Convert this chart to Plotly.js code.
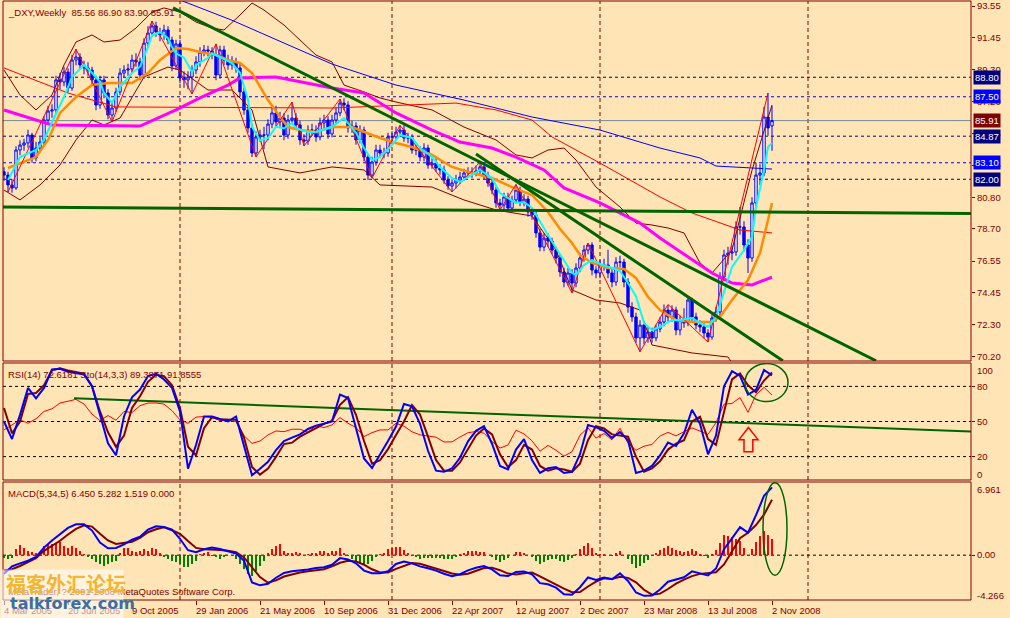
<!DOCTYPE html>
<html><head><meta charset="utf-8">
<script src="https://cdn.plot.ly/plotly-3.0.1.min.js"></script>
<style>html,body{margin:0;padding:0;background:#FFE4B5;}#chart{width:1010px;height:618px;}</style>
</head><body><div id="chart"></div>
<script>
// ---------- weekly OHLC (_DXY) ----------
const open  = [82.50,82.28,81.62,81.42,83.95,84.28,84.42,84.95,83.42,84.08,84.48,85.95,86.55,86.62,88.62,88.48,89.15,88.08,89.95,90.15,89.62,89.42,89.28,88.62,86.95,88.62,87.75,86.28,86.75,87.82,89.08,89.28,89.35,89.95,89.82,88.95,91.08,91.75,92.22,91.82,91.62,91.95,91.28,89.55,91.02,88.75,88.62,88.82,89.28,89.82,90.48,90.62,90.55,90.28,88.95,90.62,89.95,89.62,89.82,89.42,87.82,86.62,85.42,83.75,84.82,84.95,84.95,85.68,86.42,85.82,86.08,84.95,85.95,86.08,85.62,84.62,84.55,85.28,85.28,84.82,85.75,85.95,85.02,85.95,86.42,87.08,86.95,85.42,85.55,84.62,85.28,83.48,82.28,83.15,83.95,83.75,83.75,84.82,84.82,85.15,85.28,84.75,84.75,83.95,83.95,83.48,84.08,82.95,83.08,82.75,82.62,81.95,81.55,81.75,81.95,82.15,82.42,82.48,82.42,82.55,82.82,82.28,81.75,81.28,80.42,80.28,80.82,80.08,80.62,81.28,80.48,80.68,79.82,79.62,78.42,77.48,78.08,77.88,77.28,76.75,75.82,75.15,75.75,75.08,76.08,76.75,77.28,77.62,75.95,75.75,76.28,76.28,75.75,75.15,76.48,76.48,75.15,73.48,72.82,71.42,72.28,71.42,71.82,71.42,72.02,72.48,73.28,72.82,73.28,71.95,72.62,72.42,73.95,72.82,72.28,72.15,71.75,71.48,72.75,73.15,75.48,76.95,77.08,77.15,78.82,78.82,77.62,76.75,80.42,82.28,82.42,86.15,85.56];
const high  = [82.8,82.5,82.0,84.2,84.6,84.7,85.3,85.1,84.5,84.8,86.2,86.9,87.0,88.9,89.1,89.5,89.4,90.3,90.68,90.4,89.9,89.8,89.5,88.9,88.9,88.9,88.0,87.1,88.1,89.4,89.6,89.7,90.3,90.4,90.1,91.4,92.2,92.55,92.5,92.1,92.3,92.2,91.5,91.3,91.3,89.2,89.2,89.6,90.2,90.8,90.95,90.9,90.8,91.02,90.9,90.9,90.3,90.2,90.1,89.7,88.1,86.9,85.7,85.2,85.3,85.5,86.0,86.8,86.9,86.5,86.4,86.3,87.15,86.4,85.9,85.0,85.6,85.7,85.6,86.1,86.3,86.2,86.3,86.8,87.35,87.4,87.2,85.9,85.8,85.6,85.5,83.7,83.5,84.3,84.3,84.1,85.1,85.2,85.5,85.6,85.6,85.1,85.0,84.3,84.2,84.4,84.3,83.4,83.4,83.0,82.9,82.2,82.0,82.3,82.5,82.7,82.8,82.8,82.9,83.15,83.1,82.5,82.0,81.5,80.7,81.1,81.1,80.9,81.65,81.5,81.0,80.9,80.1,79.9,78.7,78.4,78.4,78.1,77.5,77.0,76.1,76.1,76.0,76.4,77.1,77.6,77.75,77.8,76.2,76.6,76.7,77.3,76.0,76.8,76.9,76.7,75.4,73.8,73.1,72.6,72.5,72.2,72.1,72.3,72.8,73.65,73.6,73.6,73.5,72.9,73.4,74.2,74.1,73.1,72.6,72.4,72.0,73.0,73.5,75.8,77.3,77.5,77.6,79.2,80.15,79.2,78.0,80.8,83.1,83.0,86.82,87.75,86.90];
const low   = [81.9,81.15,81.1,81.3,83.6,83.9,84.1,83.1,83.2,83.8,84.3,85.7,86.1,86.4,88.0,88.2,87.8,87.9,89.6,89.3,89.0,88.9,88.3,86.6,86.7,87.4,86.0,85.82,86.5,87.6,88.8,88.9,89.1,89.5,88.6,88.7,90.8,91.5,91.5,91.2,91.3,91.0,89.2,89.3,88.4,88.1,88.0,87.7,89.0,89.5,90.2,90.2,90.0,88.6,88.7,89.6,89.3,89.3,89.1,87.5,86.3,85.1,83.48,83.5,84.5,84.0,84.6,85.4,85.5,85.5,84.6,84.7,85.7,85.3,84.3,84.22,84.3,84.9,84.5,84.6,85.4,84.7,84.8,85.7,86.2,86.6,85.1,85.1,84.3,84.4,83.2,81.95,82.1,82.9,83.4,83.4,83.5,84.5,84.6,84.9,84.5,84.4,83.7,83.6,83.2,83.2,82.7,82.7,82.5,82.3,81.7,81.3,81.15,81.4,81.7,81.9,82.1,82.1,82.2,82.3,82.0,81.5,81.0,80.1,79.95,80.0,79.8,79.8,80.4,80.2,80.2,79.5,79.3,78.1,77.2,77.2,77.5,77.0,76.4,75.5,74.8,74.9,74.42,74.8,75.8,76.5,77.0,75.6,75.4,75.4,75.9,75.4,74.8,74.9,76.1,74.8,73.1,72.5,71.1,70.5,71.0,71.1,71.1,71.2,71.8,72.2,72.5,72.5,71.6,71.6,72.1,72.2,72.5,72.0,71.8,71.4,71.15,71.3,72.5,72.9,75.2,76.3,76.6,76.9,78.3,77.2,75.75,76.5,80.1,81.6,82.2,84.9,83.90];
const close = [82.28,81.62,81.42,83.95,84.28,84.42,84.95,83.42,84.08,84.48,85.95,86.55,86.62,88.62,88.48,89.15,88.08,89.95,90.15,89.62,89.42,89.28,88.62,86.95,88.62,87.75,86.28,86.75,87.82,89.08,89.28,89.35,89.95,89.82,88.95,91.08,91.75,92.22,91.82,91.62,91.95,91.28,89.55,91.02,88.75,88.62,88.82,89.28,89.82,90.48,90.62,90.55,90.28,88.95,90.62,89.95,89.62,89.82,89.42,87.82,86.62,85.42,83.75,84.82,84.95,84.95,85.68,86.42,85.82,86.08,84.95,85.95,86.08,85.62,84.62,84.55,85.28,85.28,84.82,85.75,85.95,85.02,85.95,86.42,87.08,86.95,85.42,85.55,84.62,85.28,83.48,82.28,83.15,83.95,83.75,83.75,84.82,84.82,85.15,85.28,84.75,84.75,83.95,83.95,83.48,84.08,82.95,83.08,82.75,82.62,81.95,81.55,81.75,81.95,82.15,82.42,82.48,82.42,82.55,82.82,82.28,81.75,81.28,80.42,80.28,80.82,80.08,80.62,81.28,80.48,80.68,79.82,79.62,78.42,77.48,78.08,77.88,77.28,76.75,75.82,75.15,75.75,75.08,76.08,76.75,77.28,77.62,75.95,75.75,76.28,76.28,75.75,75.15,76.48,76.48,75.15,73.48,72.82,71.42,72.28,71.42,71.82,71.42,72.02,72.48,73.28,72.82,73.28,71.95,72.62,72.42,73.95,72.82,72.28,72.15,71.75,71.48,72.75,73.15,75.48,76.95,77.08,77.15,78.82,78.82,77.62,76.75,80.42,82.28,82.42,86.15,85.42,85.91];

// ---------- date axis ----------
const dateLabels = ["4 Mar 2005","20 Jun 2005","9 Oct 2005","29 Jan 2006","21 May 2006","10 Sep 2006","31 Dec 2006","22 Apr 2007","12 Aug 2007","2 Dec 2007","23 Mar 2008","13 Jul 2008","2 Nov 2008"];
const dateBars   = [0,16,32,48,64,80,96,112,128,144,160,176,192];
const yearGridBars = [44,97,149,201];
const priceTicks = [93.55,91.45,89.30,87.20,85.05,82.95,80.80,78.70,76.55,74.45,72.30,70.20];

// ---------- moving averages (bar index, value) ----------
const cyanBars = [1,4,8,10,12,15,17,20,22,24,25,27,29,32,34,36,37,39,41,42,43,45,47,48,51,52,54,57,59,61,62,64,66,68,70,72,73,76,78,82,85,88,90,92,94,97,99,102,104,107,109,112,114,117,119,122,124,128,130,132,134,136,138,140,142,143,145,147,149,152,154,156,158,160,162,164,167,169,172,174,176,178,180,182,185,187,188,190,191,192];
const cyanVals = [81.95,83.48,83.95,84.62,85.8,87.5,88.82,89.62,89.1,88.5,87.75,87.1,88.15,89.08,89.5,90.8,91.6,91.8,91.4,90.8,90.4,90.1,89.15,89.6,90.1,90.4,90.15,89.75,89.1,87.3,85.5,84.6,84.75,85.5,85.4,85.75,85.4,85.15,85.15,85.5,86.08,85.1,84.08,83.28,83.48,84.28,84.95,84.75,84.08,83.48,82.82,82.08,81.82,82.28,82.62,82.08,81.08,80.42,80.48,80.08,79.15,78.28,77.42,76.62,75.75,75.62,76.28,76.62,76.35,76.08,75.88,75.08,74.2,72.42,71.95,72.15,72.62,72.62,72.75,72.42,72.15,72.82,74.42,76.15,77.28,78.15,80.15,82.62,84.15,84.42];
const orangeBars = [1,4,8,11,14,18,22,26,29,32,36,39,43,46,49,53,56,59,62,64,66,69,71,74,78,82,87,92,97,102,107,112,117,122,127,132,136,139,142,144,147,151,155,158,161,164,168,172,177,179,182,186,189,191,192];
const orangeVals = [82.75,83.08,83.48,84.62,86.42,87.48,88.28,88.42,88.42,88.42,89.08,89.95,90.75,90.68,90.48,90.28,89.95,89.75,89.08,88.15,87.28,86.15,85.48,85.28,85.15,85.48,85.48,84.95,84.48,84.15,83.62,82.82,82.42,82.08,81.48,80.95,79.82,78.68,77.75,76.95,76.42,76.08,76.02,75.42,74.15,73.28,72.62,72.48,72.48,72.82,73.95,75.28,77.08,79.28,80.42];
const magentaBars = [0,12,34,43,49,56,59,68,82,90,98,107,114,122,128,135,140,149,159,164,177,182,187,192];
const magentaVals = [86.62,85.62,85.55,86.62,87.42,88.28,88.75,88.82,88.08,87.75,86.42,85.28,84.48,84.08,83.48,82.62,81.42,80.42,79.08,78.08,75.75,75.08,74.95,75.48];
const blueMaBars = [44,46,57,70,82,98,115,132,149,164,174,178,192];
const blueMaVals = [93.95,93.75,92.6,91.08,89.68,88.28,87.28,86.15,85.28,84.08,83.42,82.88,82.68];
const redMaBars = [0,16,28,82,113,123,132,137,149,164,172,184,192];
const redMaVals = [89.42,87.75,86.82,86.75,87.08,86.62,85.95,84.82,83.08,80.82,79.75,78.62,78.42];
const zigBars = [1,18,27,37,47,53,63,72,75,84,92,99,112,119,124,128,142,146,159,166,176,191];
const zigVals = [81.15,90.68,85.82,92.55,87.68,91.02,83.48,87.15,84.22,87.35,82.08,85.6,81.15,83.15,79.95,81.65,74.42,77.75,70.5,73.65,71.15,87.75];
// Bollinger-type bands (maroon)
const bandUpBars = [0,4,8,12,15,18,22,25,29,33,37,40,44,48,52,55,59,62,65,70,74,78,82,85,90,94,98,107,115,123,128,132,136,140,143,148,154,158,162,166,170,174,177,182,187,192];
const bandUpVals = [89.28,87.62,86.62,87.62,89.62,91.15,91.62,91.15,91.28,92.08,93.15,93.42,93.15,92.48,92.08,91.95,92.95,93.75,93.28,92.28,91.28,90.28,89.82,88.28,87.82,87.42,87.15,86.62,85.48,84.62,83.62,83.42,83.95,84.08,83.28,81.48,80.15,79.08,78.95,78.75,78.42,76.42,75.75,77.28,82.6,86.95];
const bandLoBars = [0,4,9,14,18,22,25,29,35,41,44,51,57,62,66,74,82,90,94,107,115,123,132,138,142,148,154,159,162,172,181,184];
const bandLoVals = [81.28,80.62,81.62,82.95,84.62,85.95,85.62,86.08,88.82,89.48,89.28,87.95,87.95,86.62,82.82,82.42,82.82,82.62,81.62,81.48,80.62,79.95,79.55,77.28,74.62,73.95,73.75,73.28,70.95,70.42,70.15,68.95];

// ---------- drawn objects ----------
const levels      = [88.80,87.50,84.87,83.10,82.00];
const levelColors = ["#000080","#0000FF","#000080","#0000FF","#000080"];
const bidPrice = 85.91;
const trend1Bars = [42.25,218], trend1Vals = [93.42,69.9];
const trend2Bars = [118,194.7], trend2Vals = [83.68,69.9];
const flatLineBars = [-1,242], flatLineVals = [80.15,79.72];
const rsiTrendBars = [17.5,242], rsiTrendVals = [69.8,41.4];

// ---------- oscillators (every 2nd bar) ----------
const stochMain = [50,35,55.7,78.7,69.8,78.7,94.5,95,92.5,91.6,90.2,80.1,55.7,31.3,21.2,54.3,70.7,77.3,88.8,90.8,85.9,78.7,58.6,9.7,29.9,54.3,54.3,52.3,50,54.3,28.4,4,9.7,15.5,25.5,33.3,36.2,39,43.6,46.5,48.2,50,73,70.1,44.2,18.4,10.3,21.2,33.3,45.7,
  65,63,48,25,8,7,10,19,33,42,46,31,12,9,26,35,17,6,10,11,6,7,22,47,45,42,36,41,34,6,8,12,21,32,29,40,60,48,22,38,80,93,89,73,77,94,89.4];
const stochSignal = [61.5,39.9,50,73.5,74.4,81,93.7,95.4,93.7,92.2,90.8,80.1,58.6,40.8,28.4,37.9,61.5,71.5,83.9,89.9,88.8,81,61.5,28.4,21.2,44.2,53.7,52,51.4,51.4,36.2,11.2,4.6,9.7,19.8,30.7,31.9,37.1,40.8,44.2,48,50.5,64.3,70.7,55.7,33.3,14,16.9,26.4,38.5,
  50,64,56,37,17,8,8,15,26,38,44,39,22,11,17,30,26,12,8,10,9,7,14,34,46,44,39,38,37,20,7,10,16,26,31,34,50,54,35,30,59,86,91,81,75,85,91.9];
const rsi = [42.8,47.1,51.4,48.5,52.3,58.6,60.9,65.8,67.2,68.9,64.9,56.3,50.8,55.1,51.1,58.6,57.7,63.5,65.8,65.8,64.9,59.2,51.4,48.5,53.7,54.3,53.4,50.8,50.8,50,37.9,31.3,33.3,38.5,41.9,41.3,43.4,43.4,40.8,46.5,44.8,47.1,53.4,48.5,44.8,37.1,40.5,42.8,42.8,48.5,
  46.0,41.2,38.6,37.3,36.6,32.5,32.6,36.8,40.4,41.5,40.0,32.9,27.3,29.9,42.6,39.4,33.5,24.6,29.6,25.4,20.4,24.2,38.3,44.6,35.8,39.7,34.4,44.2,31.4,25.4,28.9,30.4,37.6,40.7,37.8,41.2,44.6,41.8,38.9,49.1,64.8,65.4,70.5,57.8,72.9,79.2,72.6];
const macdMain = [-1.78,-1.06,-0.78,-0.53,-0.16,0.72,1.40,2.03,2.59,2.93,2.93,2.34,1.19,0.66,0.69,1.03,1.47,1.75,2.43,2.75,2.68,2.43,1.56,0.47,0.28,0.56,0.72,0.59,0.41,0.16,-0.53,-2.59,-2.87,-2.72,-2.15,-1.69,-1.53,-1.47,-1.37,-1.22,-1.15,-0.91,-0.28,-0.41,-0.78,-1.47,-1.72,-1.72,-1.53,-0.84,
  -0.60,-0.78,-1.07,-1.25,-1.47,-1.77,-2.01,-1.81,-1.45,-1.20,-1.03,-1.35,-1.91,-1.99,-1.61,-1.55,-1.83,-2.66,-2.77,-3.09,-3.72,-3.77,-3.05,-2.12,-2.37,-2.12,-2.29,-1.73,-2.45,-3.55,-3.87,-3.85,-3.27,-2.53,-2.33,-2.10,-1.54,-1.70,-1.93,-1.27,0.57,1.60,2.66,2.14,3.80,5.65,6.45];
const macdSignal = [-1.47,-1.34,-1.03,-0.69,-0.28,0.41,0.87,1.37,1.97,2.50,2.84,2.72,2.03,1.40,1.06,1.19,1.28,1.65,2.18,2.47,2.65,2.37,2.03,1.34,0.69,0.56,0.56,0.50,0.41,0.28,-0.22,-1.15,-2.09,-2.62,-2.40,-2.03,-1.81,-1.65,-1.53,-1.44,-1.34,-1.06,-0.72,-0.53,-0.59,-0.91,-1.34,-1.65,-1.65,-1.31,
  -0.99,-0.74,-0.82,-1.03,-1.26,-1.50,-1.75,-1.86,-1.76,-1.49,-1.23,-1.19,-1.43,-1.75,-1.84,-1.72,-1.66,-2.01,-2.42,-2.84,-3.19,-3.53,-3.51,-2.98,-2.51,-2.20,-2.26,-2.05,-2.16,-2.58,-3.29,-3.76,-3.66,-3.22,-2.71,-2.32,-1.99,-1.78,-1.72,-1.63,-0.88,0.30,1.61,2.13,2.87,3.86,5.28];
// ---------- MACD histogram (every bar) ----------
const macdHist = [-0.3,-0.4,-0.3,0.56,1.0,0.7,0.4,0.3,0.25,0.25,0.9,1.03,1.03,1.19,1.25,0.9,0.72,0.87,0.72,0.4,0.15,-0.22,-0.37,-0.69,-0.84,-1.0,-0.84,-0.69,-0.53,0.25,0.72,0.72,0.4,0.34,0.4,0.56,0.4,0.65,0.56,0.2,-0.22,-0.37,-0.53,-0.69,-0.84,-1.09,-1.09,-0.84,-0.53,0.15,0.25,0.34,-0.1,-0.22,-0.37,-0.22,0.05,-0.1,-0.37,-0.84,-1.3,-1.75,-1.94,-1.47,-1.0,-0.53,0.2,0.56,0.9,1.03,0.4,0.25,0.25,0.3,0.2,0.05,0.1,0.2,0.25,0.4,0.4,0.25,0.4,0.4,0.65,0.25,-0.1,-0.37,-0.53,-0.8,-0.95,-0.84,-0.6,-0.22,0.1,0.25,0.56,0.7,0.75,0.78,
  0.51,0.25,-0.05,-0.2,-0.33,-0.31,-0.29,-0.28,-0.27,-0.31,-0.35,-0.35,-0.34,-0.14,0.07,0.24,0.40,0.39,0.38,0.32,0.26,0.02,-0.21,-0.42,-0.62,-0.47,-0.31,0.0,0.30,0.26,0.22,0.0,-0.22,-0.55,-0.85,-0.65,-0.46,-0.40,-0.33,-0.52,-0.69,-0.50,-0.31,0.15,0.60,0.86,1.12,0.65,0.18,0.14,0.10,0.03,-0.04,0.20,0.42,0.02,-0.38,-0.82,-1.26,-1.0,-0.75,-0.43,-0.12,0.20,0.51,0.70,0.90,0.70,0.49,0.39,0.29,0.44,0.59,0.35,0.10,-0.08,-0.27,0.10,0.47,1.2,1.89,1.8,1.69,1.55,1.37,0.7,0.01,0.6,1.21,1.8,2.33,1.9,1.52];

// ---------- geometry helpers (layout only) ----------
const PL=3, PR=971, PT=1, PB=600;
const fx = px => (px-PL)/(PR-PL);
const fy = py => (PB-py)/(PB-PT);
const MAROON="#800000", BG="#FFE4B5";
const FONT="Liberation Sans, Arial, sans-serif";
const FS=9.5;
const bars = close.map((_,i)=>i);
const oscBars = stochMain.map((_,k)=>2*k);

const traces = [];
traces.push({type:'candlestick', x:bars, open:open, high:high, low:low, close:close,
  increasing:{line:{color:'#0000FF',width:1}, fillcolor:'#FFFFFF'},
  decreasing:{line:{color:'#0000FF',width:1}, fillcolor:'#0000FF'},
  whiskerwidth:0, hoverinfo:'skip', xaxis:'x', yaxis:'y', showlegend:false});
function line(x,y,color,width,yaxis,dash){ return {type:'scatter',mode:'lines',x:x,y:y,line:{color:color,width:width,dash:dash||'solid'},xaxis:'x',yaxis:yaxis||'y',hoverinfo:'skip',showlegend:false}; }
traces.push(line(bandUpBars,bandUpVals,MAROON,1));
traces.push(line(bandLoBars,bandLoVals,MAROON,1));
traces.push(line(blueMaBars,blueMaVals,'#0000FF',1));
traces.push(line(redMaBars,redMaVals,'#FF0000',1));
traces.push(line(magentaBars,magentaVals,'#FF00FF',3));
traces.push(line(orangeBars,orangeVals,'#FF8C00',2.5));
traces.push(line(zigBars,zigVals,'#FF0000',1));
traces.push(line(cyanBars,cyanVals,'#00FFFF',2));
traces.push(line(flatLineBars,flatLineVals,'#006400',3));
traces.push(line(trend1Bars,trend1Vals,'#006400',3));
traces.push(line(trend2Bars,trend2Vals,'#006400',3));
traces.push(line(rsiTrendBars,rsiTrendVals,'#006400',2,'y2'));
traces.push(line(oscBars,rsi,'#FF0000',1,'y2'));
traces.push(line(oscBars,stochSignal,MAROON,2,'y2'));
traces.push(line(oscBars,stochMain,'#0000FF',2,'y2'));
traces.push({type:'bar',x:bars,y:macdHist,marker:{color:macdHist.map(v=>v>=0?'#FF0000':'#008000'),line:{width:0}},width:0.7,xaxis:'x',yaxis:'y3',hoverinfo:'skip',showlegend:false});
traces.push(line(oscBars,macdSignal,MAROON,2,'y3'));
traces.push(line(oscBars,macdMain,'#0000FF',2,'y3'));

const shapes = [];
const panels = [[1,361],[363,480],[482,600]];
panels.forEach(([t,b])=>{
  shapes.push({type:'rect',xref:'paper',yref:'paper',x0:0,x1:1,y0:fy(b),y1:fy(t),line:{color:MAROON,width:1},layer:'above'});
});
yearGridBars.forEach(b=>{
  panels.forEach(([t,bt])=>{
    shapes.push({type:'line',xref:'x',yref:'paper',x0:b,x1:b,y0:fy(bt),y1:fy(t),line:{color:MAROON,width:1,dash:'4px,3px'},layer:'below'});
  });
});
levels.forEach((v,i)=>shapes.push({type:'line',xref:'paper',yref:'y',x0:0,x1:1,y0:v,y1:v,line:{color:levelColors[i],width:1,dash:'3px,3px'},layer:'below'}));
shapes.push({type:'line',xref:'paper',yref:'y',x0:0,x1:1,y0:bidPrice,y1:bidPrice,line:{color:'#778899',width:1},layer:'below'});
[80,50,20].forEach(v=>shapes.push({type:'line',xref:'paper',yref:'y2',x0:0,x1:1,y0:v,y1:v,line:{color:'#000000',width:1,dash:'3px,3px'},layer:'below'}));
shapes.push({type:'line',xref:'paper',yref:'y3',x0:0,x1:1,y0:0,y1:0,line:{color:'#000000',width:1,dash:'3px,3px'},layer:'below'});
shapes.push({type:'circle',xref:'x',yref:'y2',x0:185.25,x1:196,y0:67,y1:99.5,line:{color:'#006400',width:1.5}});
shapes.push({type:'circle',xref:'x',yref:'y3',x0:189.75,x1:195.75,y0:-1.9,y1:6.9,line:{color:'#006400',width:1.5}});
shapes.push({type:'path',xref:'x',yref:'y2',path:'M 183.75 34.5 L 186.1 44.8 L 188.5 34.5 L 187.2 34.5 L 187.2 24.1 L 185 24.1 L 185 34.5 Z',line:{color:'#FF0000',width:1.5},fillcolor:'rgba(0,0,0,0)'});

const ann = [];
function txt(x,y,t,opt){ return Object.assign({xref:'paper',yref:'paper',x:fx(x),y:fy(y),text:t,showarrow:false,xanchor:'left',yanchor:'middle',font:{family:FONT,size:FS,color:MAROON}},opt||{}); }
ann.push(txt(6,12,'_DXY,Weekly  85.56 86.90 83.90 85.91'));
ann.push(txt(6,374,'RSI(14) 72.6181 Sto(14,3,3) 89.3871 91.8555'));
ann.push(txt(6,493,'MACD(5,34,5) 6.450 5.282 1.519 0.000'));
ann.push(txt(975,370,'100'));ann.push(txt(975,474,'0'));
ann.push(txt(975,489,'6.961'));ann.push(txt(975,595,'-4.266'));
dateLabels.forEach((d,i)=>ann.push({xref:'x',yref:'paper',x:dateBars[i],y:fy(610),text:d,showarrow:false,xanchor:'left',yanchor:'middle',xshift:-2,font:{family:FONT,size:FS,color:MAROON}}));
const tagBg = {'88.80':'#000080','87.50':'#0000FF','84.87':'#000080','83.10':'#0000FF','82.00':'#000080'};
levels.forEach(v=>ann.push({xref:'paper',yref:'y',x:fx(973),y:v,text:v.toFixed(2),showarrow:false,xanchor:'left',yanchor:'middle',bgcolor:tagBg[v.toFixed(2)],borderpad:1,font:{family:FONT,size:FS,color:'#FFFFFF'}}));
ann.push({xref:'paper',yref:'y',x:fx(973),y:bidPrice,text:bidPrice.toFixed(2),showarrow:false,xanchor:'left',yanchor:'middle',bgcolor:MAROON,borderpad:1,font:{family:FONT,size:FS,color:'#FFFFFF'}});
ann.push(txt(6,591,'MetaTrader, ? 2001-2008 MetaQuotes Software Corp.'));
ann.push(txt(0,594,' ',{xanchor:'left',bgcolor:'rgba(255,255,255,0.55)',width:122,height:48,borderpad:0}));
ann.push(txt(4,583,'<b>福客外汇论坛</b>',{font:{family:'Noto Sans CJK SC',size:20,color:'#F2B632'}}));
ann.push(txt(8,603,'<b>talkforex.com</b>',{font:{family:'DejaVu Sans',size:16,color:'#3A6EA5'}}));

const axY = {side:'right',ticks:'outside',ticklen:3,tickcolor:MAROON,showgrid:false,zeroline:false,anchor:'x',fixedrange:true,ticklabeloverflow:'allow',tickfont:{family:FONT,size:FS,color:MAROON}};
const layout = {
  width:1010,height:618,margin:{l:PL,r:1010-PR,t:PT,b:618-PB,pad:0},
  paper_bgcolor:BG,plot_bgcolor:BG,showlegend:false,dragmode:false,
  font:{family:FONT,size:FS,color:MAROON},
  xaxis:{range:[-0.25,241.75],showgrid:false,zeroline:false,showticklabels:false,ticks:'outside',ticklen:4,tickcolor:MAROON,tickvals:dateBars,rangeslider:{visible:false},anchor:'y3',fixedrange:true},
  yaxis:Object.assign({domain:[fy(361),1],range:[93.95-361/15,93.95-1/15],tickvals:priceTicks,ticktext:priceTicks.map(v=>v.toFixed(2))},axY),
  yaxis2:Object.assign({domain:[fy(480),fy(363)],range:[0,100],tickvals:[80,50,20],ticktext:['80','50','20']},axY),
  yaxis3:Object.assign({domain:[0,fy(482)],range:[-4.266,6.961],tickvals:[0],ticktext:['0.00']},axY),
  bargap:0,boxgap:0.15,shapes:shapes,annotations:ann
};
Plotly.newPlot('chart',traces,layout,{staticPlot:true,displayModeBar:false});
</script></body></html>
